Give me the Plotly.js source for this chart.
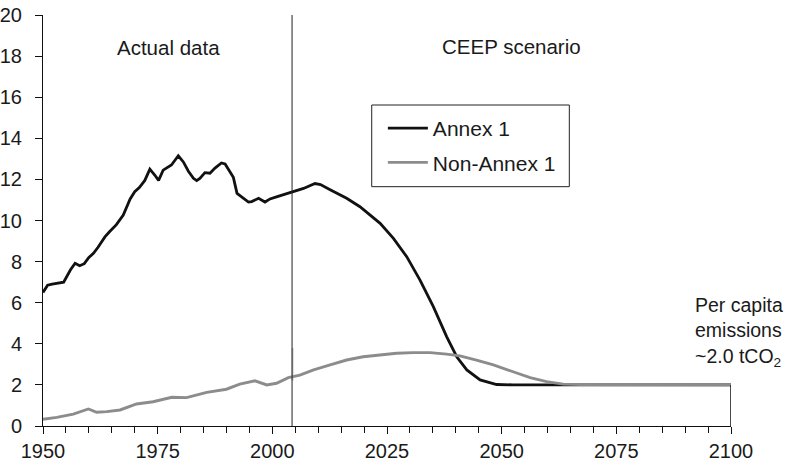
<!DOCTYPE html>
<html>
<head>
<meta charset="utf-8">
<script src="https://cdn.plot.ly/plotly-3.0.1.min.js"></script>
<style>html,body{margin:0;padding:0;background:#fff;}#chart{width:787px;height:473px;}</style>
</head>
<body>
<div id="chart"></div>
<script>
// Annex 1 per capita emissions (tCO2)
const annexYears = [1950,1951,1952,1954,1954.5,1956,1957,1958,1959,1960,1961,1962,1963.5,1964.5,1966,1967.5,1969,1970,1971,1972.2,1973.3,1974.4,1975.2,1976.2,1977,1978,1979.5,1980.6,1981.7,1982.8,1983.5,1984.2,1985.3,1986.4,1987.5,1988.9,1989.7,1990.8,1991.5,1992.3,1993.3,1994.8,1995.5,1997,1998.4,1999.5,2000.9,2002.4,2004.3,2006.8,2009.3,2010.5,2012.6,2016.2,2019.1,2023.5,2026.4,2029.3,2032.2,2035.1,2038,2040.2,2042.4,2045.3,2048.9,2052.5,2100];
const annexValues = [6.5,6.85,6.9,6.97,7.0,7.6,7.92,7.8,7.9,8.2,8.4,8.7,9.2,9.45,9.8,10.27,11.05,11.4,11.6,11.95,12.5,12.2,11.95,12.45,12.55,12.7,13.15,12.85,12.4,12.05,11.94,12.05,12.33,12.3,12.55,12.8,12.75,12.33,12.1,11.32,11.16,10.9,10.92,11.08,10.9,11.05,11.15,11.25,11.38,11.56,11.8,11.75,11.5,11.08,10.67,9.86,9.13,8.24,7.1,5.81,4.35,3.37,2.73,2.24,2.02,2.0,2.0];

// Non-Annex 1 per capita emissions (tCO2)
const nonAnnexYears = [1950,1953,1956.6,1959.9,1961.7,1963.9,1966.8,1970.4,1974,1978.1,1981.3,1985.7,1990,1992.9,1996.2,1998.8,2000.9,2003.5,2006,2009,2012.6,2016.2,2019.8,2023.5,2027.1,2030.7,2034.4,2038,2040.9,2044.5,2048.2,2052.5,2056.2,2059.8,2063.4,2067.1,2100];
const nonAnnexValues = [0.33,0.42,0.58,0.83,0.67,0.7,0.78,1.07,1.18,1.4,1.38,1.64,1.79,2.04,2.2,2.0,2.08,2.35,2.48,2.73,2.97,3.21,3.37,3.45,3.54,3.57,3.57,3.5,3.41,3.21,2.97,2.64,2.35,2.16,2.04,2.02,2.0];

const seriesNames = ["Annex 1", "Non-Annex 1"];
const xTickVals = [1950,1975,2000,2025,2050,2075,2100];
const yTickVals = [0,2,4,6,8,10,12,14,16,18,20];
const scenarioStartYear = 2004.3;
const targetLevel = 2.0;

const FONT = '"Liberation Sans", Arial, Helvetica, sans-serif';

const traces = [
  {x: annexYears, y: annexValues, name: seriesNames[0], type: 'scatter', mode: 'lines',
   line: {color: '#111111', width: 2.8}, legendgroup: 'a'},
  {x: nonAnnexYears, y: nonAnnexValues, name: seriesNames[1], type: 'scatter', mode: 'lines',
   line: {color: '#8c8c8c', width: 2.9}, legendgroup: 'b'}
];

const layout = {
  width: 787, height: 473,
  margin: {l: 43, r: 56, t: 15, b: 47},
  paper_bgcolor: '#ffffff', plot_bgcolor: '#ffffff',
  font: {family: FONT, size: 20, color: '#1a1a1a'},
  showlegend: true,
  legend: {x: 0.494, y: 0.774, xanchor: 'left', yanchor: 'top',
           bgcolor: 'rgba(0,0,0,0)', borderwidth: 0, itemwidth: 40,
           font: {family: FONT, size: 21, color: '#1a1a1a'}, tracegroupgap: 4},
  xaxis: {range: [1950, 2100], tickvals: xTickVals, ticktext: xTickVals.map(String),
          showgrid: false, zeroline: false, showline: true, linecolor: '#111', linewidth: 1,
          ticks: 'outside', ticklen: 7, tickcolor: '#111', ticklabelstandoff: 0,
          minor: {dtick: 5, tick0: 1950, ticks: 'outside', ticklen: 6, tickcolor: '#111', showgrid: false},
          fixedrange: true},
  yaxis: {range: [0, 20], tickvals: yTickVals, ticktext: yTickVals.map(String),
          showgrid: false, zeroline: false, showline: true, linecolor: '#111', linewidth: 1,
          ticks: 'outside', ticklen: 7, tickcolor: '#111', ticklabelstandoff: 9,
          fixedrange: true},
  shapes: [
    {type: 'line', xref: 'x', yref: 'paper', x0: scenarioStartYear, x1: scenarioStartYear, y0: 0, y1: 1,
     line: {color: '#222', width: 1}},
    {type: 'line', xref: 'x', yref: 'y', x0: 2100, x1: 2100, y0: 0, y1: targetLevel,
     line: {color: '#111', width: 1.5}},
    {type: 'line', xref: 'x', yref: 'y', x0: scenarioStartYear + 0.1, x1: scenarioStartYear + 0.1, y0: 2.2, y1: 3.8,
     line: {color: '#c4c4c4', width: 2}, layer: 'below'},
    {type: 'rect', xref: 'paper', yref: 'paper', x0: 0.4778, x1: 0.765, y0: 0.5823, y1: 0.781,
     line: {color: '#222', width: 1}, fillcolor: 'rgba(0,0,0,0)'}
  ],
  annotations: [
    {text: 'Actual data', xref: 'x', yref: 'y', x: 1977.3, y: 18.4, showarrow: false,
     font: {family: FONT, size: 20.5, color: '#1a1a1a'}},
    {text: 'CEEP scenario', xref: 'x', yref: 'y', x: 2052.2, y: 18.45, showarrow: false,
     font: {family: FONT, size: 20.5, color: '#1a1a1a'}},
    {text: 'Per capita<br>emissions<br>~2.0 tCO<sub>2</sub>', xref: 'paper', yref: 'paper',
     x: 0.9448, y: 0.2287, xanchor: 'left', yanchor: 'middle', align: 'left', showarrow: false,
     font: {family: FONT, size: 19.5, color: '#1a1a1a'}}
  ]
};

Plotly.newPlot('chart', traces, layout, {displayModeBar: false, staticPlot: true});
</script>
</body>
</html>
